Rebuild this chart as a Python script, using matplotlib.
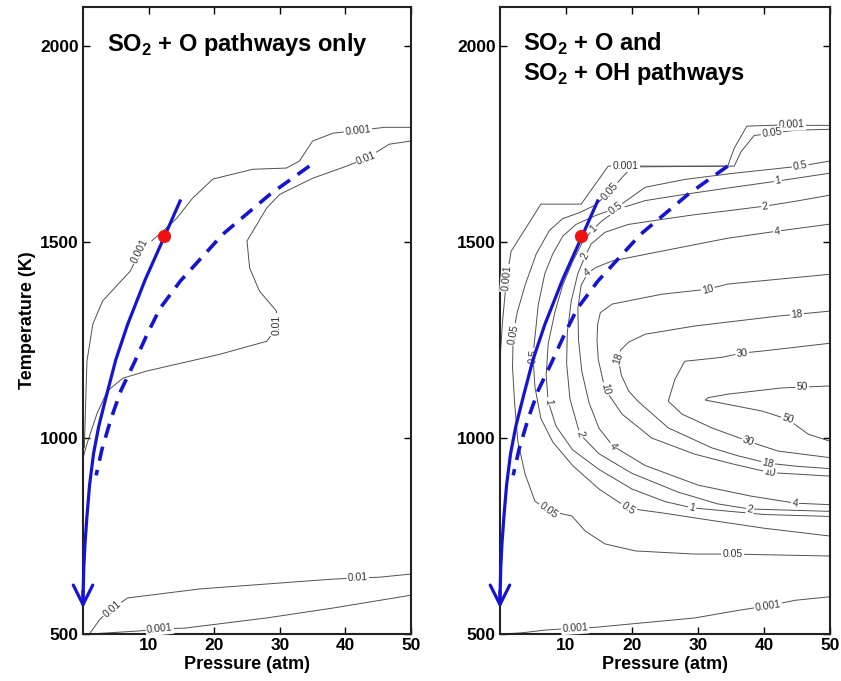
import numpy as np
import matplotlib
matplotlib.use('Agg')
import matplotlib.pyplot as plt

plt.rcParams['font.family'] = ['Liberation Sans', 'DejaVu Sans']
plt.rcParams['mathtext.fontset'] = 'custom'
plt.rcParams['mathtext.rm'] = 'Liberation Sans'
plt.rcParams['mathtext.bf'] = 'Liberation Sans:bold'

x_ticks = [10, 20, 30, 40, 50]
y_ticks = [500, 1000, 1500, 2000]
titles = [r'SO$_\mathbf{2}$ + O pathways only',
          'SO$_\\mathbf{2}$ + O and\nSO$_\\mathbf{2}$ + OH pathways']

# blue trajectories (pressure atm, temperature K)
solid_P = [14.8, 12.3, 9.5, 6.8, 5.0, 3.6, 2.4, 1.6, 1.0, 0.6, 0.3, 0.12, 0.03, 0.0]
solid_T = [1605, 1510, 1405, 1290, 1200, 1110, 1030, 960, 880, 800, 730, 670, 610, 585]
dash_P = [34.5, 28.5, 21.3, 14.8, 11.7, 9.7, 7.8, 5.8, 4.3, 2.9, 2.0]
dash_T = [1694, 1622, 1520, 1400, 1330, 1262, 1192, 1122, 1051, 972, 905]
dot_P, dot_T = 12.3, 1515
arrow_from_T, arrow_tip_T = 610, 566

# left panel: SO2 + O only
L_001_up = [(0.2, 975), (0.6, 1196), (1.5, 1291), (3.0, 1350), (7.2, 1426), (8.7, 1477),
            (10.6, 1505), (12.5, 1533), (14.3, 1561), (16.7, 1612), (19.8, 1661), (25.9, 1686),
            (31.0, 1689), (33.0, 1707), (35.0, 1758), (38.1, 1778), (41.9, 1785), (46.0, 1793),
            (50.0, 1793)]
L_01_up = [(0.0, 949), (0.6, 985), (2.1, 1061), (3.7, 1120), (6.1, 1153), (9.7, 1171),
           (20.9, 1214), (28.0, 1247), (29.5, 1281), (29.5, 1324), (26.9, 1375), (25.4, 1434),
           (25.0, 1503), (28.0, 1587), (30.0, 1622), (35.0, 1663), (40.2, 1694), (43.2, 1714),
           (46.7, 1750), (50.0, 1758)]
L_01_low = [(1.1, 503), (2.6, 538), (4.4, 564), (6.8, 592), (17.8, 615), (38.0, 640),
            (41.9, 643), (45.2, 645), (50.0, 653)]
L_001_low = [(1.0, 500), (8.7, 508), (11.7, 513), (15.5, 515), (28.0, 541), (38.0, 566),
             (50.0, 599)]
left_lines = [('0.001', L_001_up), ('0.01', L_01_up), ('0.01', L_01_low), ('0.001', L_001_low)]
left_labels = [('0.001', 8.7, 1477), ('0.001', 41.9, 1785), ('0.01', 43.2, 1714),
               ('0.01', 29.5, 1290), ('0.01', 4.4, 564), ('0.01', 41.9, 643),
               ('0.001', 11.7, 513)]

# right panel: SO2 + O and SO2 + OH
R_001_up = [(0.0, 1200), (0.4, 1300), (1.0, 1408), (1.7, 1477), (6.2, 1597), (12.3, 1597),
            (16.4, 1694), (34.5, 1694), (35.5, 1740), (37.4, 1796), (41.0, 1798), (44.2, 1800),
            (47.0, 1798), (50.0, 1798)]
R_005_up = [(50.0, 1788), (45.0, 1786), (41.2, 1778), (38.5, 1772), (36.5, 1730), (35.5, 1694),
            (20.0, 1692), (18.5, 1665), (16.7, 1630), (14.5, 1595), (12.0, 1575), (9.5, 1560),
            (7.5, 1530), (5.5, 1470), (3.8, 1390), (2.6, 1320), (2.0, 1265), (1.9, 1180),
            (2.2, 1094), (2.7, 992), (3.8, 908), (5.3, 839), (7.3, 815), (10.9, 801),
            (12.9, 763), (15.9, 730), (20.5, 712), (29.5, 704), (35.2, 704), (50.0, 699)]
R_05 = [(50.0, 1707), (45.5, 1694), (35.0, 1675), (28.0, 1660), (22.0, 1640), (19.5, 1610),
        (17.5, 1586), (14.5, 1568), (11.5, 1545), (9.5, 1515), (8.0, 1470), (6.8, 1420),
        (5.8, 1340), (5.0, 1209), (5.3, 1130), (6.2, 1050), (8.0, 990), (11.0, 930),
        (15.0, 870), (19.4, 821), (25.0, 808), (32.0, 790), (40.0, 770), (50.0, 750)]
R_1 = [(50.0, 1676), (42.1, 1656), (34.5, 1638), (28.0, 1622), (22.0, 1606), (18.0, 1585),
       (15.5, 1555), (14.1, 1533), (12.5, 1500), (11.0, 1450), (9.5, 1390), (8.3, 1320),
       (7.3, 1240), (7.0, 1160), (7.3, 1094), (8.5, 1030), (11.0, 970), (15.0, 920),
       (20.0, 870), (25.0, 838), (29.1, 822), (40.0, 805), (50.0, 800)]
R_2 = [(50.0, 1620), (45.0, 1605), (40.2, 1592), (34.5, 1580), (29.5, 1570), (24.5, 1558),
       (19.4, 1545), (15.9, 1525), (13.8, 1495), (12.9, 1464), (11.8, 1420), (10.8, 1350),
       (10.2, 1270), (10.1, 1190), (10.6, 1100), (12.1, 1010), (15.0, 960), (20.0, 910),
       (27.0, 862), (33.0, 832), (37.9, 819), (50.0, 813)]
R_4 = [(50.0, 1546), (42.0, 1528), (34.5, 1510), (24.5, 1477), (17.0, 1452), (14.5, 1435),
       (13.3, 1421), (12.3, 1390), (11.8, 1330), (11.9, 1250), (12.4, 1170), (13.5, 1090),
       (15.0, 1025), (17.1, 980), (22.0, 930), (30.0, 880), (38.0, 852), (44.7, 834),
       (50.0, 830)]
R_10 = [(50.0, 1418), (34.5, 1393), (31.5, 1380), (24.5, 1367), (17.0, 1342), (15.2, 1320),
        (14.8, 1290), (14.7, 1250), (14.9, 1200), (15.9, 1125), (18.5, 1061), (23.0, 1000),
        (29.5, 959), (35.0, 935), (40.9, 912), (50.0, 903)]
R_18 = [(50.0, 1324), (45.0, 1316), (42.0, 1311), (29.5, 1286), (22.0, 1265), (19.5, 1245),
        (18.3, 1225), (17.9, 1204), (18.4, 1160), (19.5, 1120), (20.9, 1094), (25.5, 1026),
        (32.1, 975), (36.0, 955), (40.6, 936), (45.0, 928), (50.0, 922)]
R_30 = [(50.0, 1242), (39.7, 1222), (36.7, 1217), (33.6, 1206), (28.0, 1196), (26.5, 1150),
        (25.5, 1094), (27.6, 1061), (32.1, 1026), (37.6, 992), (42.1, 967), (50.0, 950)]
R_50 = [(50.0, 1133), (45.8, 1130), (42.7, 1128), (34.5, 1112), (31.5, 1103), (31.1, 1097),
        (33.6, 1089), (39.7, 1069), (43.6, 1048), (46.7, 1010), (50.0, 992)]
R_001_low = [(0.3, 500), (3.3, 503), (6.8, 510), (11.4, 515), (14.4, 517), (29.5, 541),
             (36.0, 560), (40.6, 572), (44.7, 586), (50.0, 595)]
right_lines = [('0.001', R_001_up), ('0.05', R_005_up), ('0.5', R_05), ('1', R_1), ('2', R_2),
               ('4', R_4), ('10', R_10), ('18', R_18), ('30', R_30), ('50', R_50),
               ('0.001', R_001_low)]
right_labels = [('0.001', 19.0, 1694), ('0.001', 44.2, 1800), ('0.001', 1.0, 1408),
                ('0.05', 41.2, 1778), ('0.05', 16.7, 1630), ('0.05', 2.0, 1265),
                ('0.05', 7.3, 815), ('0.05', 35.2, 704),
                ('0.5', 45.5, 1694), ('0.5', 17.5, 1586), ('0.5', 5.0, 1209), ('0.5', 19.4, 821),
                ('1', 42.1, 1656), ('1', 14.1, 1533), ('1', 7.3, 1094), ('1', 29.1, 822),
                ('2', 40.2, 1592), ('2', 12.9, 1464), ('2', 12.1, 1010), ('2', 37.9, 819),
                ('4', 42.0, 1528), ('4', 13.3, 1421), ('4', 17.1, 980), ('4', 44.7, 834),
                ('10', 31.5, 1380), ('10', 15.9, 1125), ('10', 40.9, 912),
                ('18', 45.0, 1316), ('18', 17.9, 1204), ('18', 40.6, 936),
                ('30', 36.7, 1217), ('30', 37.6, 992),
                ('50', 45.8, 1130), ('50', 43.6, 1048),
                ('0.001', 11.4, 515), ('0.001', 40.6, 572)]

blue = '#1414d2'
gray = '#505050'


def put_label(ax, lines, text, p, t):
    pt = ax.transData.transform((p, t))
    best = None
    for lev, pts in lines:
        if lev != text:
            continue
        d = ax.transData.transform(np.array(pts, dtype=float))
        for a, b in zip(d[:-1], d[1:]):
            ab = b - a
            L = ab @ ab
            s = np.clip(((pt - a) @ ab) / L, 0, 1) if L > 0 else 0
            q = a + s * ab
            dist = np.hypot(*(pt - q))
            if best is None or dist < best[0]:
                best = (dist, q, ab)
    _, q, ab = best
    ang = np.degrees(np.arctan2(ab[1], ab[0]))
    if ang > 90:
        ang -= 180
    if ang < -90:
        ang += 180
    x, y = ax.transData.inverted().transform(q)
    ax.text(x, y, text, rotation=ang, rotation_mode='anchor', ha='center', va='center',
            fontsize=7.5, color='#333333', zorder=3,
            bbox=dict(fc='white', ec='none', pad=0.8))


fig = plt.figure(figsize=(8.41, 6.81), dpi=100)
ax1 = fig.add_axes([0.0987, 0.069, 0.390, 0.9207])
ax2 = fig.add_axes([0.5945, 0.069, 0.3924, 0.9207])

for ax, lines, labels, title in [(ax1, left_lines, left_labels, titles[0]),
                                 (ax2, right_lines, right_labels, titles[1])]:
    ax.set_xlim(0, 50)
    ax.set_ylim(500, 2100)
    ax.set_xticks(x_ticks)
    ax.set_yticks(y_ticks)
    ax.tick_params(direction='in', length=5, width=1, top=True, right=True,
                   labelsize=12.5, pad=3)
    for lab in ax.get_xticklabels() + ax.get_yticklabels():
        lab.set_fontweight('bold')
    for sp in ax.spines.values():
        sp.set_linewidth(1.5)
        sp.set_color('#222222')
    ax.set_xlabel('Pressure (atm)', fontsize=13, fontweight='bold', labelpad=2)

    for lev, pts in lines:
        arr = np.array(pts)
        ax.plot(arr[:, 0], arr[:, 1], color=gray, lw=0.7, zorder=2)
    for text, p, t in labels:
        put_label(ax, lines, text, p, t)

    ax.plot(dash_P, dash_T, color=blue, lw=2.6, ls=(0, (4, 2.6)), zorder=4)
    ax.plot(solid_P, solid_T, color=blue, lw=2.3, zorder=4, clip_on=False)
    ax.annotate('', xy=(0, arrow_tip_T), xytext=(0, arrow_from_T),
                arrowprops=dict(arrowstyle='->,head_length=0.7,head_width=0.35',
                                color=blue, lw=2.3, mutation_scale=20,
                                shrinkA=0, shrinkB=0), zorder=5)
    ax.plot([dot_P], [dot_T], 'o', color='#ee1111', ms=9.5, mec='none', zorder=5)

    ax.text(0.072, 0.94, title, transform=ax.transAxes, fontsize=17, fontweight='bold',
            ha='left', va='center', linespacing=1.15)

ax1.set_ylabel('Temperature (K)', fontsize=13, fontweight='bold', labelpad=3)
ax2.texts[-1].set_position((0.07, 0.917))

fig.savefig('out.png', dpi=100)
